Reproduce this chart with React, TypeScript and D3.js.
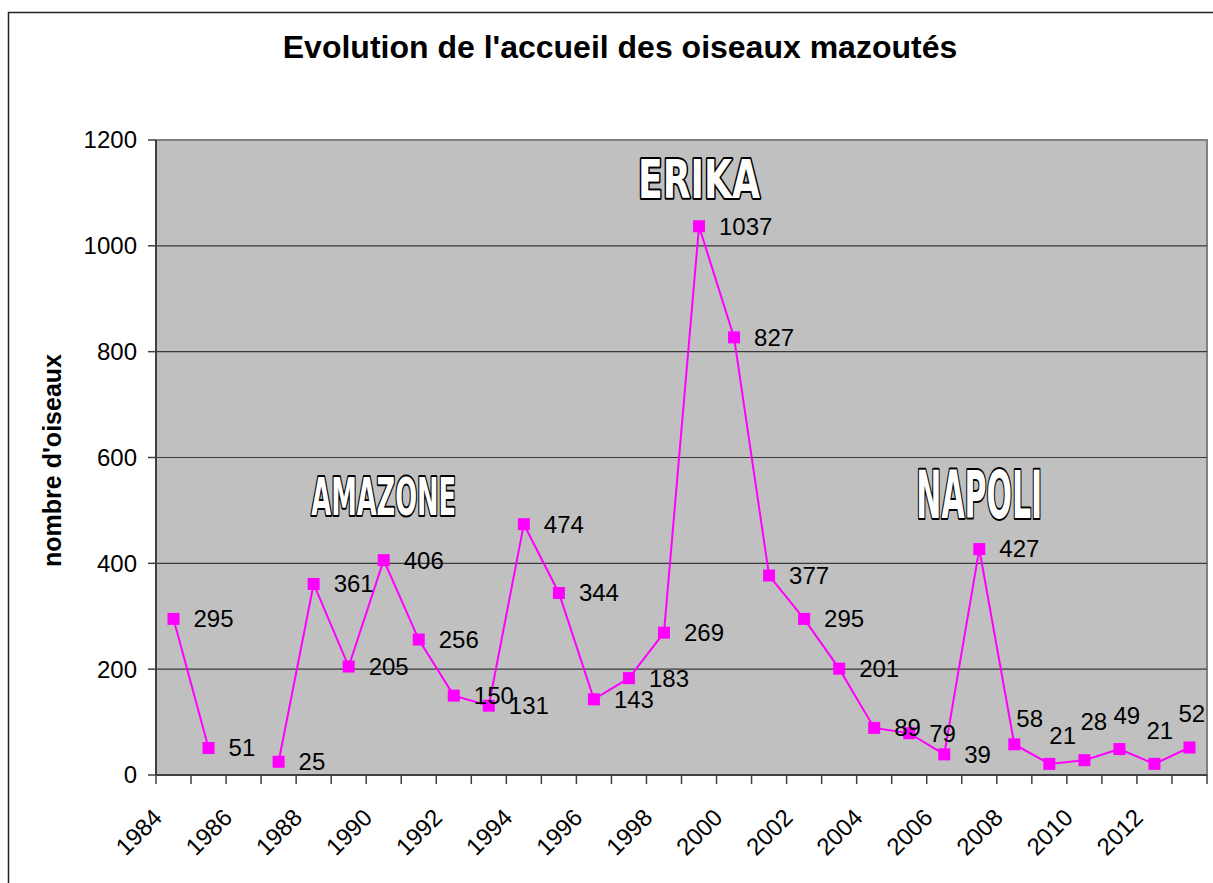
import React, { useEffect, useRef } from 'react'
import * as d3 from 'd3'

// yearly counts of oiled birds taken in (1986: no data)
const years = [1984, 1985, 1986, 1987, 1988, 1989, 1990, 1991, 1992, 1993, 1994, 1995, 1996, 1997, 1998,
	1999, 2000, 2001, 2002, 2003, 2004, 2005, 2006, 2007, 2008, 2009, 2010, 2011, 2012, 2013]
const birds: (number | null)[] = [295, 51, null, 25, 361, 205, 406, 256, 150, 131, 474, 344, 143, 183, 269,
	1037, 827, 377, 295, 201, 89, 79, 39, 427, 58, 21, 28, 49, 21, 52]

const yTicks = [0, 200, 400, 600, 800, 1000, 1200]
const xTickLabels = ['1984', '1986', '1988', '1990', '1992', '1994', '1996', '1998', '2000', '2002', '2004', '2006', '2008', '2010', '2012']

// oil spill names, placed in data units
const spills = [
	{ label: 'AMAZONE', year: 1990, value: 491 },
	{ label: 'ERIKA', year: 1999, value: 1090 },
	{ label: 'NAPOLI', year: 2007, value: 486 },
]

const title = "Evolution de l'accueil des oiseaux mazoutés"
const yTitle = "nombre d'oiseaux"

const W = 1213
const H = 883
const FONT = "'Liberation Sans', Arial, sans-serif"

// labels that were moved by hand in the original (dx from point to text start, dy to text middle)
const labelNudge: Record<number, [number, number]> = {
	2008: [2, -26],
	2009: [0, -28],
	2010: [-4, -39],
	2011: [-6, -33],
	2012: [-8, -33],
	2013: [-11, -34],
}
// font size / drawn width of the outlined spill labels
const spillStyle: Record<string, { size: number, len: number }> = {
	AMAZONE: { size: 52, len: 145 },
	ERIKA: { size: 54, len: 122 },
	NAPOLI: { size: 66, len: 126 },
}

export default function App() {
	const ref = useRef<SVGSVGElement>(null)

	useEffect(() => {
		drawChart()
	}, [])

	const drawChart = () => {
		const svg = d3.select(ref.current)
		svg.selectAll('*').remove()

		const plot = { left: 156, top: 140, right: 1207, bottom: 775 }

		const x = d3.scaleBand<number>()
			.domain(years)
			.range([plot.left, plot.right])
			.padding(0)
		const cx = (yr: number) => (x(yr) as number) + x.bandwidth() / 2

		const y = d3.scaleLinear()
			.domain([0, 1200])
			.range([plot.bottom, plot.top])

		// outer frame
		svg.append('rect')
			.attr('x', 8.5).attr('y', 12.5)
			.attr('width', 1300).attr('height', 1000)
			.attr('fill', '#fff')
			.attr('stroke', '#222')
			.attr('stroke-width', 1.5)

		// title
		svg.append('text')
			.attr('x', 620).attr('y', 58)
			.attr('text-anchor', 'middle')
			.style('font-family', FONT)
			.style('font-weight', 'bold')
			.style('font-size', '32px')
			.text(title)

		// plot area
		svg.append('rect')
			.attr('x', plot.left).attr('y', plot.top)
			.attr('width', plot.right - plot.left)
			.attr('height', plot.bottom - plot.top)
			.attr('fill', '#c0c0c0')
			.attr('stroke', '#808080')
			.attr('stroke-width', 2)

		// gridlines
		svg.append('g')
			.selectAll('line')
			.data(yTicks.filter(t => t > 0 && t < 1200))
			.enter()
			.append('line')
			.attr('x1', plot.left).attr('x2', plot.right)
			.attr('y1', d => y(d)).attr('y2', d => y(d))
			.attr('stroke', '#3a3a3a')
			.attr('stroke-width', 1.2)

		// y axis
		const yAxis = svg.append('g')
		yAxis.append('line')
			.attr('x1', plot.left).attr('x2', plot.left)
			.attr('y1', plot.top).attr('y2', plot.bottom)
			.attr('stroke', '#404040').attr('stroke-width', 2)
		yAxis.selectAll('line.tick')
			.data(yTicks)
			.enter()
			.append('line')
			.attr('class', 'tick')
			.attr('x1', plot.left - 8).attr('x2', plot.left)
			.attr('y1', d => y(d)).attr('y2', d => y(d))
			.attr('stroke', '#404040').attr('stroke-width', 1.5)
		yAxis.selectAll('text')
			.data(yTicks)
			.enter()
			.append('text')
			.attr('x', 137)
			.attr('y', d => y(d))
			.attr('dy', '0.35em')
			.attr('text-anchor', 'end')
			.style('font-family', FONT)
			.style('font-size', '24px')
			.text(d => d)

		svg.append('text')
			.attr('transform', `translate(61, ${(plot.top + plot.bottom) / 2 + 3}) rotate(-90)`)
			.attr('text-anchor', 'middle')
			.style('font-family', FONT)
			.style('font-weight', 'bold')
			.style('font-size', '25px')
			.text(yTitle)

		// x axis
		const xAxis = svg.append('g')
		xAxis.append('line')
			.attr('x1', plot.left).attr('x2', plot.right)
			.attr('y1', plot.bottom).attr('y2', plot.bottom)
			.attr('stroke', '#404040').attr('stroke-width', 2)
		xAxis.selectAll('line.tick')
			.data([...years.map(d => x(d) as number), plot.right])
			.enter()
			.append('line')
			.attr('class', 'tick')
			.attr('x1', d => d).attr('x2', d => d)
			.attr('y1', plot.bottom).attr('y2', plot.bottom + 9)
			.attr('stroke', '#404040').attr('stroke-width', 1.5)
		xAxis.selectAll('text')
			.data(xTickLabels)
			.enter()
			.append('text')
			.attr('transform', d => `translate(${cx(+d) - 10}, 819) rotate(-45)`)
			.attr('text-anchor', 'end')
			.style('font-family', FONT)
			.style('font-size', '24px')
			.text(d => d)

		// spill names: outlined, squeezed horizontally to the original width
		const spillText = svg.append('g')
			.selectAll('text')
			.data(spills)
			.enter()
			.append('text')
			.attr('text-anchor', 'middle')
			.style('font-family', "'DejaVu Sans Condensed', 'DejaVu Sans', sans-serif")
			.style('font-stretch', 'condensed')
			.style('font-weight', 'bold')
			.style('font-size', d => spillStyle[d.label].size + 'px')
			.style('fill', '#fff')
			.style('stroke', '#000')
			.style('stroke-width', 4)
			.style('stroke-linejoin', 'round')
			.style('paint-order', 'stroke fill')
			.text(d => d.label)
		spillText.each(function (d) {
			const node = this as SVGTextElement
			const natural = node.getComputedTextLength() || spillStyle[d.label].len
			const sx = spillStyle[d.label].len / natural
			d3.select(node).attr('transform', `translate(${cx(d.year)}, ${y(d.value)}) scale(${sx}, 1)`)
		})

		const points = years.map((yr, i) => ({ year: yr, value: birds[i] }))

		const line = d3.line<{ year: number, value: number | null }>()
			.defined(d => d.value !== null)
			.x(d => cx(d.year))
			.y(d => y(d.value as number))

		svg.append('path')
			.datum(points)
			.attr('d', line)
			.attr('fill', 'none')
			.attr('stroke', '#ff00ff')
			.attr('stroke-width', 2)

		const present = points.filter(d => d.value !== null)

		svg.append('g')
			.selectAll('rect')
			.data(present)
			.enter()
			.append('rect')
			.attr('x', d => cx(d.year) - 6)
			.attr('y', d => y(d.value as number) - 6)
			.attr('width', 12).attr('height', 12)
			.attr('fill', '#ff00ff')

		// value labels
		svg.append('g')
			.selectAll('text')
			.data(present)
			.enter()
			.append('text')
			.attr('x', d => cx(d.year) + (labelNudge[d.year] ? labelNudge[d.year][0] : 20))
			.attr('y', d => y(d.value as number) + (labelNudge[d.year] ? labelNudge[d.year][1] : 0))
			.attr('dy', '0.35em')
			.style('font-family', FONT)
			.style('font-size', '24px')
			.style('fill', '#000')
			.text(d => d.value as number)
	}

	return (
		<svg ref={ref} width={W} height={H}
			style={{ position: 'absolute', left: 0, top: 0, display: 'block', background: '#fff' }} />
	)
}
